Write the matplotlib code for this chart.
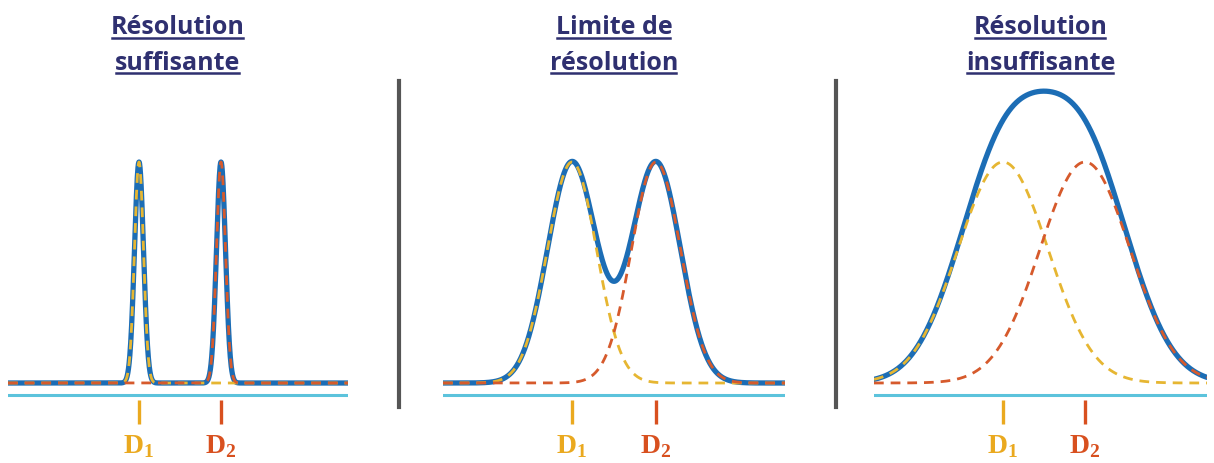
import numpy as np
import matplotlib.pyplot as plt
from matplotlib.lines import Line2D

# chart data: peak centers, widths (sigma) and heights for each panel
titles = [["Résolution", "suffisante"],
          ["Limite de", "résolution"],
          ["Résolution", "insuffisante"]]
centers_1 = [131, 213]
centers_2 = [129, 213]
centers_3 = [129, 211]
sigmas = [4.5, 24.5, 45]
heights = [1.0, 1.0]
peak_labels = [r"$\mathbf{D}_{\mathbf{1}}$", r"$\mathbf{D}_{\mathbf{2}}$"]

# layout in pixels (figure is 1214 x 464)
W_PX, H_PX = 1214, 464
panel_left = [8, 443, 874]
panel_width = [340, 342, 333]
separators_x = [399, 836]

col_sum = "#1c6db5"
col_d1 = "#e6b632"
col_d2 = "#d65a2c"
col_base = "#5cc3dc"
col_lab1 = "#eaa91f"
col_lab2 = "#d8501f"
col_title = "#2f3070"

plt.rcParams['mathtext.fontset'] = 'custom'
plt.rcParams['mathtext.rm'] = 'Liberation Serif'
plt.rcParams['mathtext.bf'] = 'Liberation Serif:bold'

fig = plt.figure(figsize=(W_PX / 100, H_PX / 100), dpi=100)

# y data: 0 = curve baseline (px 384), 1 = component peak (px 163)
def py(px):
    return (384 - px) / 221.0

def gauss(x, c, s, h):
    return h * np.exp(-0.5 * ((x - c) / s) ** 2)

title_texts = []
for i, centers in enumerate([centers_1, centers_2, centers_3]):
    L, Wd = panel_left[i], panel_width[i]
    ax = fig.add_axes([L / W_PX, 0, Wd / W_PX, 1])
    ax.set_xlim(0, Wd)
    ax.set_ylim(py(H_PX), py(0))
    ax.axis('off')

    x = np.linspace(0, Wd, 1500)
    y1 = gauss(x, centers[0], sigmas[i], heights[0])
    y2 = gauss(x, centers[1], sigmas[i], heights[1])

    ax.axhline(py(396), color=col_base, lw=2.2)
    ax.plot(x, y1 + y2, color=col_sum, lw=3.8, solid_capstyle='round', zorder=2)
    ax.plot(x, y1, color=col_d1, lw=2.0, ls=(0, (3.5, 2.5)), zorder=3)
    ax.plot(x, y2, color=col_d2, lw=2.0, ls=(0, (3.5, 2.5)), zorder=3)

    # peak markers and labels
    for c, lab, col in zip(centers, peak_labels, [col_lab1, col_lab2]):
        ax.plot([c, c], [py(401), py(425)], color=col, lw=2.4, solid_capstyle='butt')
        ax.text(c, py(446), lab, color=col, fontsize=20, ha='center', va='center')

    for j, line in enumerate(titles[i]):
        t = ax.text(Wd / 2, py([28, 63][j]), line, color=col_title, fontsize=18,
                    fontweight='bold', family='Open Sans', ha='center', va='center')
        title_texts.append(t)

# underline the title lines
fig.canvas.draw()
r = fig.canvas.get_renderer()
for t in title_texts:
    bb = t.get_window_extent(renderer=r)
    yu = bb.y0 + 2
    fig.add_artist(Line2D([(bb.x0 + 1) / W_PX, (bb.x1 - 2) / W_PX], [yu / H_PX, yu / H_PX],
                          transform=fig.transFigure, color=col_title, lw=1.8))

# vertical separators between panels
for sx in separators_x:
    fig.add_artist(Line2D([sx / W_PX, sx / W_PX], [1 - 82 / H_PX, 1 - 408 / H_PX],
                          transform=fig.transFigure, color="#555555", lw=3))

fig.savefig("out.png", dpi=100)
